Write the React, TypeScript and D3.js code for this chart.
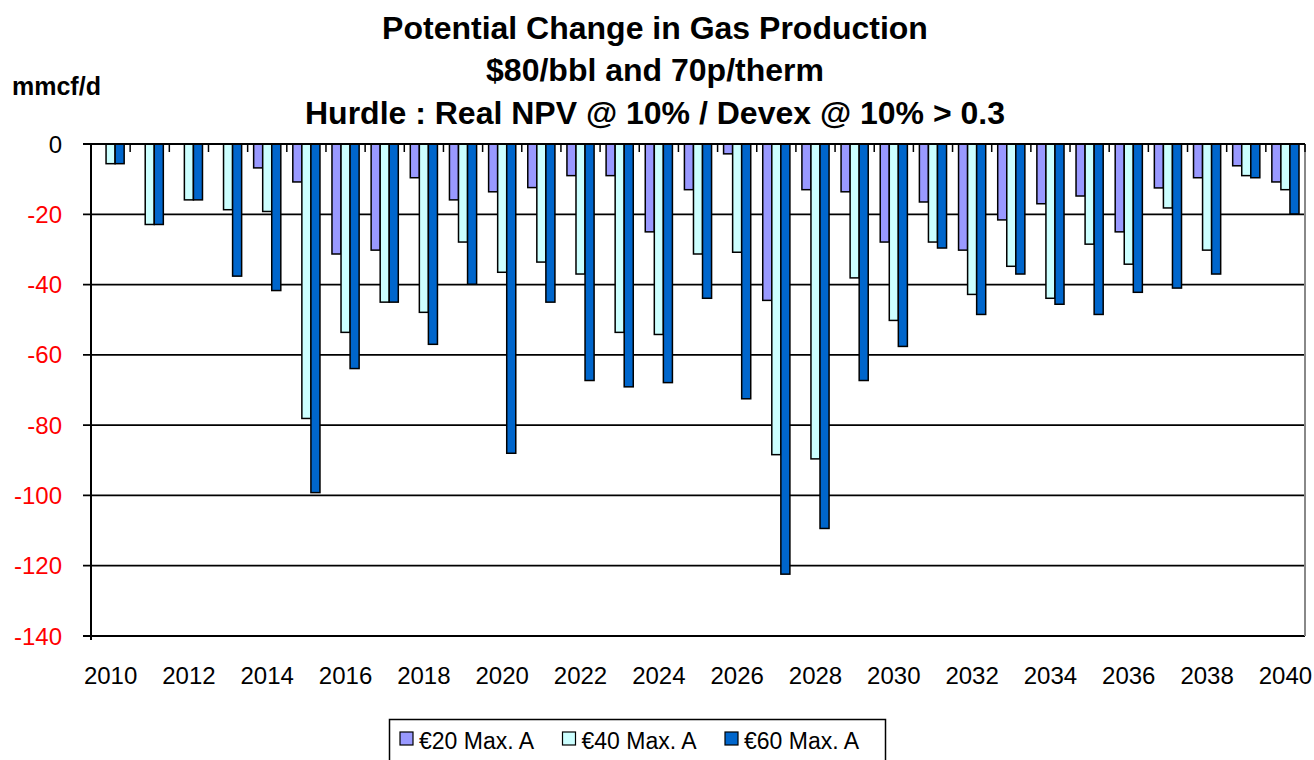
import * as d3 from "d3"

const years = d3.range(2010, 2041).map(String)
const seriesNames = ["€20 Max. A", "€40 Max. A", "€60 Max. A"]
const seriesColors = ["#9999FF", "#CCFFFF", "#0066CC"]

const eur20 = [0, 0, 0, 0, -6.8, -10.8, -31.3, -30.2, -9.6, -15.9, -13.6, -12.4, -9.0, -9.0, -25.0, -13.0, -2.8, -44.5, -13.0, -13.6, -27.9, -16.5, -30.2, -21.6, -17.0, -14.8, -25.0, -12.5, -9.6, -6.2, -10.8]
const eur40 = [-5.6, -22.9, -15.9, -18.7, -19.2, -78.1, -53.6, -45.0, -47.9, -27.9, -36.5, -33.6, -37.0, -53.6, -54.2, -31.3, -30.8, -88.4, -89.6, -38.1, -50.2, -27.9, -42.8, -34.8, -43.9, -28.5, -34.2, -18.2, -30.2, -9.0, -13.0]
const eur60 = [-5.6, -22.9, -15.9, -37.6, -41.7, -99.2, -63.9, -45.0, -57.0, -39.9, -88.0, -45.0, -67.3, -69.1, -67.9, -43.9, -72.5, -122.4, -109.4, -67.3, -57.6, -29.6, -48.5, -37.0, -45.6, -48.5, -42.2, -41.0, -37.0, -9.6, -19.9]
const yTicks = [0, -20, -40, -60, -80, -100, -120, -140]
const xLabels = years.filter((_, i) => i % 2 === 0)

const seriesValues = [eur20, eur40, eur60]
const font = "'Liberation Sans', Arial, sans-serif"

export default function App() {
    const left = 91
    const right = 1305
    const top = 144
    const bottom = 636

    const x0 = d3.scaleBand<string>().domain(years).range([left, right]).padding(0)
    const bw = x0.bandwidth()
    const x1 = d3.scaleBand<string>().domain(seriesNames).range([6, bw - 6]).padding(0)
    const y = d3.scaleLinear().domain([0, -140]).range([top, bottom])

    return (
        <svg width={1314} height={760} style={{ position: "absolute", left: 0, top: 0, background: "#fff" }} fontFamily={font}>
            <g fontWeight="bold" fontSize={32} textAnchor="middle" fill="#000" style={{ whiteSpace: "pre" }}>
                <text x={655} y={39}>Potential Change in Gas Production</text>
                <text x={655} y={81}>$80/bbl and 70p/therm</text>
                <text x={655} y={124}>Hurdle : Real NPV @ 10%  /  Devex @ 10% &gt; 0.3</text>
            </g>
            <text x={12} y={95} fontWeight="bold" fontSize={25}>mmcf/d</text>

            {/* gridlines */}
            {yTicks.slice(1).map((t) => (
                <g key={t}>
                    <line x1={left - 8} x2={right} y1={y(t)} y2={y(t)} stroke="#000" strokeWidth={1.8} />
                    <text x={62} y={y(t) + 8.5} textAnchor="end" fontSize={24} fill="#FF0000">{t}</text>
                </g>
            ))}
            <text x={62} y={y(0) + 8.5} textAnchor="end" fontSize={24} fill="#000">0</text>
            <line x1={right} x2={right} y1={top} y2={bottom} stroke="#888" strokeWidth={2} />

            {/* bars */}
            {years.map((yr, i) => (
                <g key={yr} transform={`translate(${x0(yr)},0)`}>
                    {seriesNames.map((s, k) => {
                        const v = seriesValues[k][i]
                        if (v === 0) return null
                        return (
                            <rect
                                key={s}
                                x={x1(s)}
                                y={y(0)}
                                width={x1.bandwidth()}
                                height={y(v) - y(0)}
                                fill={seriesColors[k]}
                                stroke="#000"
                                strokeWidth={1.5}
                            />
                        )
                    })}
                </g>
            ))}

            {/* axes */}
            <line x1={left} x2={left} y1={top} y2={bottom + 4} stroke="#000" strokeWidth={2} />
            <line x1={left - 8} x2={right} y1={y(0)} y2={y(0)} stroke="#000" strokeWidth={2} />
            {years.map((yr) => (
                <line key={yr} x1={x0(yr)! + bw} x2={x0(yr)! + bw} y1={y(0)} y2={y(0) + 8} stroke="#000" strokeWidth={1.5} />
            ))}
            {xLabels.map((yr) => (
                <text key={yr} x={x0(yr)! + bw / 2} y={684} textAnchor="middle" fontSize={24} fill="#000">{yr}</text>
            ))}

            {/* legend */}
            <g>
                <rect x={389.5} y={719.5} width={496} height={50} fill="#fff" stroke="#000" strokeWidth={1.5} />
                {seriesNames.map((s, k) => {
                    const lx = 400 + k * 162.5
                    return (
                        <g key={s}>
                            <rect x={lx} y={732} width={13} height={13} fill={seriesColors[k]} stroke="#000" strokeWidth={1.2} />
                            <text x={lx + 19} y={749} fontSize={23} fill="#000">{s}</text>
                        </g>
                    )
                })}
            </g>
        </svg>
    )
}
